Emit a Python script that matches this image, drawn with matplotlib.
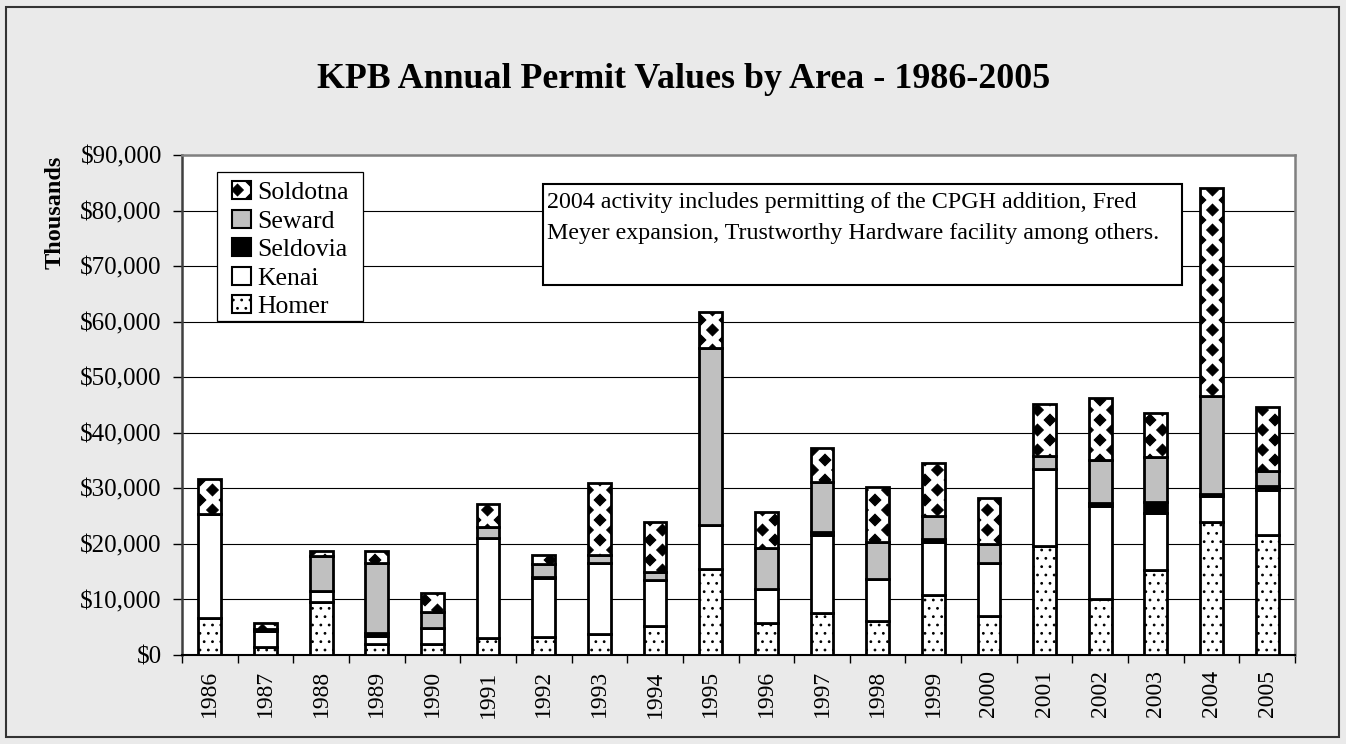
import numpy as np
import matplotlib
matplotlib.use("Agg")
import matplotlib.pyplot as plt
import matplotlib.hatch as mhatch
from matplotlib.path import Path
from matplotlib.patches import Rectangle, Patch
from matplotlib.ticker import FuncFormatter, MultipleLocator

# ---------------- data (thousands of dollars) ----------------
years = [str(y) for y in range(1986, 2006)]
homer = [6600, 1500, 9600, 1900, 1900, 3100, 3300, 3700, 5200, 15400,
         5700, 7600, 6200, 10800, 7000, 19600, 10000, 15300, 24000, 21600]
kenai = [18800, 2900, 2000, 1600, 2900, 18000, 10500, 12800, 8300, 8000,
         6100, 14000, 7400, 9500, 9600, 13800, 16800, 10300, 4700, 8100]
seldovia = [0, 0, 0, 500, 0, 0, 300, 0, 0, 0,
            0, 600, 0, 500, 0, 0, 500, 2000, 300, 700]
seward = [0, 200, 6300, 12500, 2900, 1900, 2300, 1500, 1500, 31800,
          7400, 9000, 6800, 4200, 3400, 2500, 7800, 8000, 17600, 2800]
soldotna = [6300, 1200, 900, 2200, 3500, 4200, 1600, 13000, 9000, 6500,
            6500, 6000, 9800, 9600, 8300, 9200, 11200, 8000, 37500, 11500]

series_names = ["Homer", "Kenai", "Seldovia", "Seward", "Soldotna"]
title = "KPB Annual Permit Values by Area - 1986-2005"
note = ("2004 activity includes permitting of the CPGH addition, Fred\n"
        "Meyer expansion, Trustworthy Hardware facility among others.")


# ---------------- custom diamond hatch (replaces '*') ----------------
class Diamonds(mhatch.HatchPatternBase):
    def __init__(self, hatch, density):
        n = hatch.count('*')
        self.centers = []
        if n == 0:
            self.num_vertices = 0
            return
        nc, nr = 4 * n, 10 * n
        for r in range(nr + 1):
            yy = r / nr
            if r % 2 == 0:
                xs = np.linspace(0, 1, nc + 1)
            else:
                xs = np.linspace(0.5 / nc, 1 - 0.5 / nc, nc)
            for xx in xs:
                self.centers.append((xx, yy))
        self.num_vertices = len(self.centers) * 5

    def set_vertices_and_codes(self, vertices, codes):
        base = np.array([[0, 1], [-1, 0], [0, -1], [1, 0], [0, 1]], float) * 0.058
        bc = np.array([Path.MOVETO, Path.LINETO, Path.LINETO, Path.LINETO,
                       Path.CLOSEPOLY], dtype=Path.code_type)
        vertices[:] = np.concatenate([base + c for c in self.centers])
        codes[:] = np.concatenate([bc for _ in self.centers])


mhatch._hatch_types[mhatch._hatch_types.index(mhatch.Stars)] = Diamonds

plt.rcParams['font.family'] = ['Liberation Serif', 'DejaVu Serif']
plt.rcParams['hatch.linewidth'] = 0.8
plt.rcParams['hatch.color'] = 'black'

W, H = 1346, 744
fig = plt.figure(figsize=(W / 100, H / 100), dpi=100, facecolor='#EAEAEA')
AX_L, AX_R, AX_T, AX_B = 182, 1295, 155, 655
ax = fig.add_axes([AX_L / W, (H - AX_B) / H, (AX_R - AX_L) / W, (AX_B - AX_T) / H])
ax.set_facecolor('white')


def axfx(px):
    return (px - AX_L) / (AX_R - AX_L)


def axfy(py):
    return (AX_B - py) / (AX_B - AX_T)


x = np.arange(len(years))
bw = 0.41
styles = {
    "Homer": dict(facecolor='white', hatch='..'),
    "Kenai": dict(facecolor='white', hatch=None),
    "Seldovia": dict(facecolor='black', hatch=None),
    "Seward": dict(facecolor='#C0C0C0', hatch=None),
    "Soldotna": dict(facecolor='white', hatch='*'),
}
data = {"Homer": homer, "Kenai": kenai, "Seldovia": seldovia,
        "Seward": seward, "Soldotna": soldotna}

bottom = np.zeros(len(years))
handles = []
for name in series_names:
    vals = np.array(data[name], float)
    st = styles[name]
    ax.bar(x, vals, bw, bottom=bottom, facecolor=st['facecolor'],
           hatch=st['hatch'], edgecolor='black', linewidth=2.0, zorder=3)
    handles.append(Patch(facecolor=st['facecolor'], hatch=st['hatch'],
                         edgecolor='black', linewidth=1.5, label=name))
    bottom += vals

ax.set_xlim(-0.5, len(years) - 0.5)
ax.set_ylim(0, 90000)
ax.yaxis.set_major_locator(MultipleLocator(10000))
ax.yaxis.set_major_formatter(FuncFormatter(lambda v, p: f"${v:,.0f}"))
ax.yaxis.grid(True, color='black', linewidth=0.8)
ax.set_axisbelow(True)

ax.set_xticks(x)
ax.set_xticklabels(years, rotation=90, fontsize=17)
ax.set_xticks(np.arange(-0.5, len(years)), minor=True)
ax.tick_params(axis='x', which='major', length=0, pad=11)
ax.tick_params(axis='x', which='minor', length=6, width=1, direction='out')
ax.tick_params(axis='y', which='major', length=6.5, width=1, direction='out',
               pad=8, labelsize=18)

for s in ['top', 'right']:
    ax.spines[s].set_color('#808080')
    ax.spines[s].set_linewidth(1.8)
ax.spines['left'].set_color('#404040')
ax.spines['left'].set_linewidth(1.8)
ax.spines['bottom'].set_color('black')
ax.spines['bottom'].set_linewidth(1.5)

# legend frame drawn as a plain box, legend entries placed inside it
ax.add_patch(Rectangle((axfx(217), axfy(321)), axfx(363) - axfx(217),
                       axfy(172) - axfy(321), transform=ax.transAxes,
                       facecolor='white', edgecolor='black', linewidth=0.9,
                       zorder=4))
leg = ax.legend(handles[::-1], [h.get_label() for h in handles[::-1]],
                loc='upper left', bbox_to_anchor=(axfx(232), axfy(181)),
                borderaxespad=0, fontsize=18.5, frameon=False,
                handlelength=0.72, handleheight=0.72, handletextpad=0.28,
                labelspacing=0.21, borderpad=0)
leg.set_zorder(5)

# annotation box
ax.add_patch(Rectangle((axfx(543), axfy(285)), axfx(1182) - axfx(543),
                       axfy(184) - axfy(285), transform=ax.transAxes,
                       facecolor='white', edgecolor='black', linewidth=1.5,
                       zorder=5))
ax.text(axfx(547), axfy(192), note, transform=ax.transAxes,
        ha='left', va='top', fontsize=17.3, linespacing=1.6, zorder=6)

fig.text(684 / W, 1 - 80 / H, title, ha='center', va='center',
         fontsize=25.8, fontweight='bold')
fig.text(55 / W, 1 - 212 / H, "Thousands", rotation=90, ha='center',
         va='center', fontsize=17.5, fontweight='bold')

fig.patches.append(Rectangle((6 / W, 7 / H), 1333 / W, 730 / H,
                             transform=fig.transFigure, fill=False,
                             edgecolor='#333333', linewidth=1.5))

fig.savefig("out.png", dpi=100, facecolor=fig.get_facecolor())
